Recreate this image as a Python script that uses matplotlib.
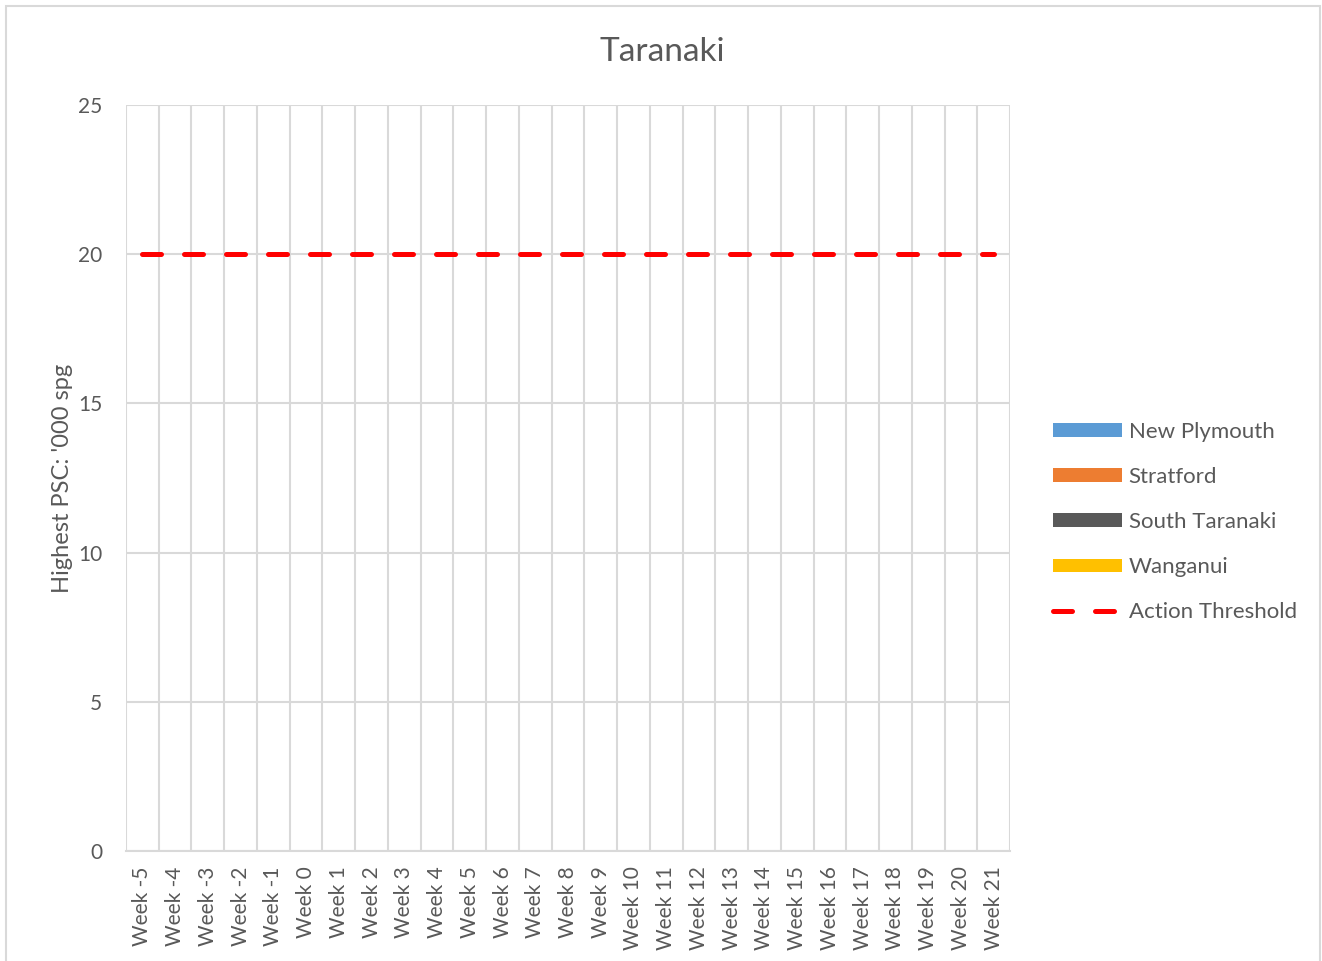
import numpy as np
import matplotlib
matplotlib.use('Agg')
import matplotlib.pyplot as plt
from matplotlib.patches import Rectangle

weeks = ['Week -5', 'Week -4', 'Week -3', 'Week -2', 'Week -1', 'Week 0', 'Week 1',
         'Week 2', 'Week 3', 'Week 4', 'Week 5', 'Week 6', 'Week 7', 'Week 8',
         'Week 9', 'Week 10', 'Week 11', 'Week 12', 'Week 13', 'Week 14', 'Week 15',
         'Week 16', 'Week 17', 'Week 18', 'Week 19', 'Week 20', 'Week 21']
# no readings yet for any district
new_plymouth = [np.nan] * len(weeks)
stratford = [np.nan] * len(weeks)
south_taranaki = [np.nan] * len(weeks)
wanganui = [np.nan] * len(weeks)
action_threshold = [20] * len(weeks)

series = [('New Plymouth', new_plymouth, '#5B9BD5'),
          ('Stratford', stratford, '#ED7D31'),
          ('South Taranaki', south_taranaki, '#595959'),
          ('Wanganui', wanganui, '#FFC000')]

plt.rcParams['font.family'] = ['Lato', 'DejaVu Sans']
txt = '#595959'
grid = '#D9D9D9'

fig = plt.figure(figsize=(13.22, 9.61), dpi=100)
ax = fig.add_axes([126/1322, 1-851/961, (1010-126)/1322, (851-105)/961])

x = np.arange(len(weeks))
w = 0.8 / len(series)
handles = []
for i, (name, vals, col) in enumerate(series):
    b = ax.bar(x - 0.4 + w*(i+0.5), vals, width=w, color=col, label=name)
    handles.append(b)
ln, = ax.plot(x, action_threshold, color='#FF0000', lw=3.6, ls=(0, (3.8, 4.6)),
              dash_capstyle='round', label='Action Threshold', zorder=5)
handles.append(ln)

ax.set_xlim(-0.5, len(weeks)-0.5)
ax.set_ylim(0, 25)
ax.set_yticks(range(0, 26, 5))
ax.set_xticks(x)
ax.set_xticklabels(weeks, rotation=90, fontsize=15, color=txt)
ax.set_xticks(np.arange(-0.5, len(weeks), 1), minor=True)
ax.tick_params(axis='x', which='both', length=0, pad=11)
ax.tick_params(axis='y', length=0, labelsize=15, labelcolor=txt, pad=17)
ax.grid(axis='y', color=grid, lw=1.5)
ax.grid(axis='x', which='minor', color=grid, lw=1.5)
ax.grid(axis='x', which='major', visible=False)
ax.set_axisbelow(True)
for s in ['top', 'right', 'left']:
    ax.spines[s].set_visible(False)
ax.spines['bottom'].set_color(grid)
ax.spines['bottom'].set_linewidth(1.5)

ax.set_ylabel("Highest PSC: '000 spg", fontsize=17, color=txt, labelpad=4)
fig.text(662/1322, 1-52/961, 'Taranaki', ha='center', va='center', fontsize=24, color=txt)

fig.legend(handles=handles, loc='center left', bbox_to_anchor=(1033/1322, 1-522/961),
           frameon=False, fontsize=16, labelcolor=txt, handlelength=3.1, handleheight=0.55,
           labelspacing=1.13, handletextpad=0.3)

fig.add_artist(Rectangle((6/1322, -0.05), (1320-6)/1322, 1.05 - 6/961, transform=fig.transFigure,
                         fill=False, edgecolor=grid, lw=1.5))

fig.savefig('out.png', dpi=100)
